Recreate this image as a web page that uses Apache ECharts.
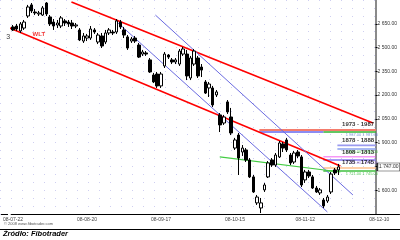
<!DOCTYPE html>
<html><head><meta charset="utf-8">
<script src="https://cdn.jsdelivr.net/npm/echarts@6/dist/echarts.min.js"></script>
<style>html,body{margin:0;padding:0;background:#fff}#c{width:400px;height:240px}</style>
</head><body><div id="c"></div>
<script>
// ---- data ----
const slotCount = 105; // trading-day slots on the time axis (incl. projection area)
const tickIdx = [0, 20, 40, 60, 79, 99];
const tickLabels = ['08-07-22', '08-08-20', '08-09-17', '08-10-15', '08-11-12', '08-12-10'];
// [open, close, low, high]
const candles = [
  [2630,2611,2605,2642],[2636,2617,2605,2649],[2605,2649,2592,2661],[2623,2661,2611,2674],
  [2699,2756,2687,2769],[2769,2731,2718,2781],[2724,2718,2705,2743],[2712,2718,2699,2731],
  [2705,2750,2699,2762],[2781,2712,2699,2787],[2693,2649,2636,2705],[2661,2636,2611,2680],
  [2642,2655,2623,2674],[2636,2687,2623,2699],[2668,2655,2636,2680],[2661,2649,2630,2674],
  [2655,2636,2617,2674],[2636,2642,2623,2655],[2611,2548,2541,2623],[2541,2573,2529,2592],
  [2560,2573,2541,2586],[2560,2617,2548,2636],[2611,2598,2586,2623],[2535,2579,2522,2592],
  [2573,2510,2497,2592],[2535,2592,2522,2611],[2592,2611,2579,2623],[2598,2592,2579,2611],
  [2598,2668,2586,2680],[2661,2630,2617,2674],[2611,2579,2560,2630],[2567,2497,2485,2579],
  [2541,2554,2529,2567],[2560,2541,2529,2573],[2516,2440,2434,2529],[2459,2472,2447,2485],
  [2466,2459,2447,2478],[2422,2346,2340,2434],[2327,2283,2276,2340],[2333,2258,2245,2346],
  [2258,2333,2245,2346],[2384,2459,2371,2472],[2453,2440,2428,2459],[2422,2409,2396,2434],
  [2409,2422,2396,2434],[2396,2478,2384,2491],[2459,2491,2447,2504],[2459,2321,2295,2485],
  [2308,2434,2295,2447],[2396,2478,2384,2491],[2434,2321,2308,2447],[2377,2358,2314,2396],
  [2283,2213,2207,2295],[2245,2270,2188,2283],[2245,2138,2125,2258],[2201,2220,2188,2232],
  [2075,2012,1967,2087],[2024,2062,2012,2075],[2157,2094,2081,2169],[2062,1961,1948,2119],
  [1866,1917,1854,1930],[1948,1803,1696,1961],[1841,1866,1816,1885],[1854,1791,1778,1866],
  [1791,1684,1677,1803],[1684,1589,1583,1696],[1520,1557,1507,1570],[1488,1520,1456,1551],
  [1602,1633,1589,1646],[1684,1772,1677,1784],[1791,1759,1747,1803],[1759,1822,1747,1835],
  [1810,1898,1803,1911],[1892,1866,1841,1904],[1917,1854,1841,1930],[1822,1772,1759,1835],
  [1778,1835,1766,1848],[1841,1816,1803,1854],[1810,1633,1620,1822],[1665,1715,1646,1728],
  [1715,1690,1677,1728],[1684,1614,1608,1696],[1614,1589,1583,1627],[1583,1602,1570,1614],
  [1538,1501,1488,1551],[1532,1557,1520,1570],[1589,1702,1576,1715],[1728,1709,1696,1740],
  [1728,1747,1696,1766]
];
// trend lines: [slot, price] end points
const redUpper = [[15.8, 2787], [97.3, 2024]];
const redLower = [[-1.6, 2630], [88.5, 1753]];
const blueA = [[27.8, 2668], [85.0, 1463]];
const blueB = [[38.5, 2705], [91.9, 1570]];
const greenTrend = [[55.9, 1810], [88.5, 1715]];
// Fibonacci zones
const fibLo = [1973, 1878, 1808, 1735];
const fibHi = [1987, 1888, 1813, 1745];
const fibStart = [66.6, 87.7, 83.9, 83.9];
const fibSub = [1967, 1860, 1791, 1721];
const fibSubStart = [83.9, 87.7, 83.9, 83.9];
const zone1BlueStart = 66.6;
const axisSlot = 98.1; // slot where the price axis stands
const waveMarks = [{t: '3', x: -1.3, y: 2567}];
const wltMark = {t: 'WLT', x: 7.0, y: 2586};
const lastClose = candles[candles.length - 1][1];
const boxSlot = 101.6;

// ---- build ----
const categories = Array.from({length: slotCount}, (_, i) => i);
const fmt = v => {
  const s = Number(v).toFixed(2).split('.');
  return s[0].replace(/\B(?=(\d{3})+(?!\d))/g, ' ') + '.' + s[1];
};
const bandColors = ['#f47c6c', '#9a9af0', '#ee33ee', '#ffbf8c'];
const subColors = ['#2fb52f', '#8aa0ee', '#8a7af0', '#3fbf3f'];
const subTextColors = ['#5577cc', '#33bb33', '#9966ee', '#33bb33'];
const F = 'Liberation Sans';

const trend = (d, color, w) => ({
  type: 'line', xAxisIndex: 1, yAxisIndex: 0, data: d, showSymbol: false, symbol: 'none',
  clip: false, silent: true, z: 4, lineStyle: {color, width: w}, animation: false
});
const lbl = (x, y, text, color, size, pos, weight, dist) => ({
  type: 'scatter', xAxisIndex: 1, yAxisIndex: 0, data: [[x, y]], symbolSize: 1, clip: false,
  itemStyle: {color: 'transparent'}, silent: true, z: 6, animation: false,
  label: {show: true, position: pos, distance: dist, formatter: () => text, color,
    fontSize: size, fontWeight: weight, fontFamily: F}
});

const series = [];
fibLo.forEach((lo, i) => {
  series.push({
    type: 'line', xAxisIndex: 1, yAxisIndex: 0, data: [[fibStart[i], lo]], symbol: 'none',
    lineStyle: {opacity: 0}, silent: true, z: 3, animation: false,
    markArea: {silent: true, itemStyle: {color: bandColors[i]},
      data: [[{coord: [fibStart[i], lo]}, {coord: [axisSlot, fibHi[i]]}]]}
  });
  series.push(trend([[fibSubStart[i], fibSub[i]], [axisSlot, fibSub[i]]], subColors[i], 1.5));
  series.push(lbl(93.3, fibHi[i], lo + ' - ' + fibHi[i], '#000', 6, 'top', 'bold', 1));
  series.push(lbl(94.3, fibSub[i], fmt(fibSub[i]) + ' ' + fmt(fibHi[i]), subTextColors[i], 4, 'bottom', 'normal', 0));
});
series.push(trend([[zone1BlueStart, fibSub[0]], [fibSubStart[0], fibSub[0]]], '#6666ee', 1.5));
series.push(trend(redUpper, '#ff0000', 1.6));
series.push(trend(redLower, '#ff0000', 1.6));
series.push(trend(blueA, '#6a6ae0', 1));
series.push(trend(blueB, '#6a6ae0', 1));
series.push(trend(greenTrend, '#44cc44', 1.2));
series.push({
  type: 'candlestick', xAxisIndex: 0, yAxisIndex: 0, data: candles, barWidth: 3, z: 5,
  animation: false, silent: true,
  itemStyle: {color: '#fff', color0: '#000', borderColor: '#000', borderColor0: '#000', borderWidth: 1}
});
waveMarks.forEach(m => series.push(lbl(m.x, m.y, m.t, '#000', 7, 'inside', 'normal', 0)));
series.push(lbl(wltMark.x, wltMark.y, wltMark.t, '#ee0000', 6, 'inside', 'bold', 0));
series.push({
  type: 'scatter', xAxisIndex: 1, yAxisIndex: 0, data: [[boxSlot, lastClose]], symbol: 'rect',
  symbolSize: [23, 8], clip: false, z: 7, silent: true, animation: false,
  itemStyle: {color: '#fff', borderColor: '#000', borderWidth: 1},
  label: {show: true, position: 'inside', formatter: p => fmt(p.value[1]), color: '#000', fontSize: 5, fontFamily: F}
});

const showTick = i => tickIdx.indexOf(i) >= 0;
const option = {
  animation: false,
  textStyle: {fontFamily: F},
  grid: [
    {left: 7, right: 0, top: 0, bottom: 26},
    {left: 0, right: 24, top: 0, bottom: 26}
  ],
  xAxis: [
    {type: 'category', gridIndex: 0, data: categories, boundaryGap: true,
      axisLine: {onZero: false, lineStyle: {color: '#000', width: 1}},
      axisTick: {interval: (i) => showTick(i), alignWithLabel: true, length: 3, lineStyle: {color: '#000'}},
      axisLabel: {interval: (i) => showTick(i), formatter: (v, i) => tickLabels[tickIdx.indexOf(Number(v))] || '',
        fontSize: 5, color: '#444', margin: 3},
      splitLine: {show: false}},
    {type: 'value', gridIndex: 0, min: -0.5, max: slotCount - 0.5, show: false},
    {type: 'value', gridIndex: 1, min: 0, max: 1, show: false}
  ],
  yAxis: [
    {type: 'value', gridIndex: 0, min: 1450, max: 2800, interval: 150, position: 'right', offset: -24,
      axisLine: {show: true, onZero: false, lineStyle: {color: '#8a8a8a', width: 2}},
      axisTick: {show: true, length: 2, lineStyle: {color: '#000'}},
      axisLabel: {fontSize: 5, color: '#333', margin: 2, showMinLabel: false, showMaxLabel: false, formatter: fmt},
      splitLine: {show: false}},
    {type: 'value', gridIndex: 1, min: 1450, max: 2800, interval: 150,
      axisLine: {show: false, onZero: false}, axisTick: {show: false}, axisLabel: {show: false},
      splitLine: {show: true, lineStyle: {color: '#cfcff0', width: 1, type: [1, 10]}},
      minorTick: {show: false, splitNumber: 3},
      minorSplitLine: {show: true, lineStyle: {color: '#cfcff0', width: 1, type: [1, 10]}}}
  ],
  series,
  graphic: [
    {type: 'line', shape: {x1: 0, y1: 214.5, x2: 8, y2: 214.5}, style: {stroke: '#000', lineWidth: 1}},
    {type: 'line', shape: {x1: 0, y1: 229.5, x2: 400, y2: 229.5}, style: {stroke: '#000', lineWidth: 1}},
    {type: 'text', left: 4, top: 222, style: {text: '\u00a9 2008 www.fibotrader.com', fontSize: 4, fill: '#555', fontFamily: F}},
    {type: 'text', left: 3, top: 230, style: {text: 'Źródło: Fibotrader', fontSize: 7.5, fontWeight: 'bold', fontStyle: 'italic', fill: '#000', fontFamily: F}}
  ]
};
const chart = echarts.init(document.getElementById('c'), null, {renderer: 'canvas'});
chart.setOption(option);
</script>
</body></html>
